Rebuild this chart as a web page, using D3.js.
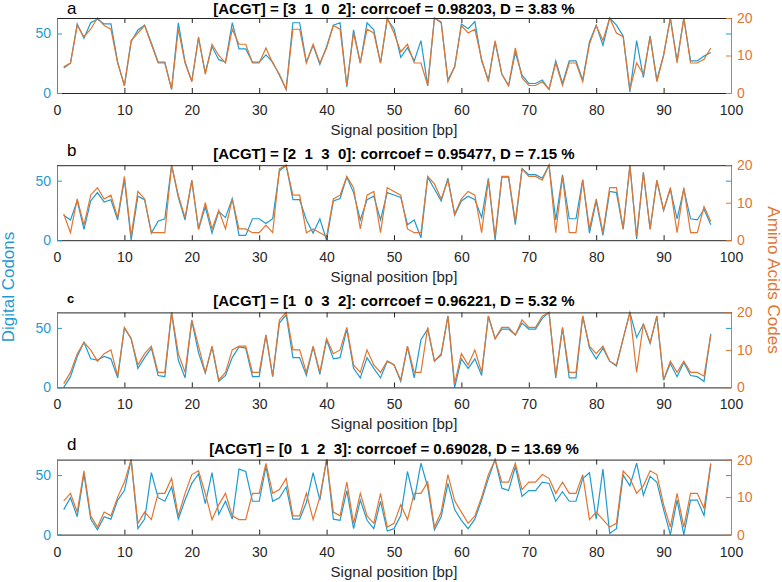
<!DOCTYPE html>
<html>
<head>
<meta charset="utf-8">
<script src="https://cdn.jsdelivr.net/npm/d3@7"></script>
<style>
  html, body { margin: 0; padding: 0; background: #ffffff; }
  svg { display: block; font-family: "Liberation Sans", Arial, Helvetica, sans-serif; }
</style>
</head>
<body>
<svg id="chart" width="782" height="582"></svg>
<script>
// ---------------- data ----------------
const positions = d3.range(1, 98); // signal positions 1..97 [bp]

const panelLetters = ["a", "b", "c", "d"];
const acgtMaps = ["[3  1  0  2]", "[2  1  3  0]", "[1  0  3  2]", "[0  1  2  3]"];
const corrcoefs = ["0.98203", "0.95477", "0.96221", "0.69028"];
const dValues = ["3.83", "7.15", "5.32", "13.69"];

const xTicks = [0, 10, 20, 30, 40, 50, 60, 70, 80, 90, 100];
const leftTicks = [0, 50];
const rightTicks = [0, 10, 20];

// Digital codons (left axis, 0..63)
const codonsA = [21,25,58,46,59,62,58,58,26,6, 43,53,57,42,26,26,3,59,26,10,
  46,17,39,28,26,59,37,37,26,26, 32,26,15,3,59,59,26,40,24,39,
  57,59,5,53,25,59,53,25,62,54, 30,38,27,44,6,63,59,11,22,58,
  54,60,27,11,43,16,6,34,15,8, 8,11,3,27,8,27,27,11,43,57,
  40,63,57,48,1,44,13,48,11,32, 63,27,63,27,27,31,34];
const codonsB = [21,17,33,9,33,40,32,34,17,51, 0,37,34,6,16,18,63,36,17,50,
  9,28,6,24,19,35,4,4,18,18, 14,18,58,63,34,34,17,6,18,0,
  33,35,53,40,17,34,37,17,40,38, 36,13,17,2,53,43,33,52,21,33,
  37,34,19,52,0,53,53,13,60,55, 55,52,63,17,55,18,18,51,6,33,
  4,41,40,9,63,1,57,9,50,25, 43,18,43,18,17,26,13];
const codonsC = [0,9,26,38,24,23,26,24,8,50, 41,16,25,33,10,9,63,23,8,56,
  29,12,34,5,10,25,34,33,9,9, 44,9,54,61,25,25,10,34,11,40,
  24,25,49,16,8,25,16,8,22,19, 5,34,8,40,49,22,27,60,0,24,
  16,24,10,60,41,49,49,44,54,49, 49,58,63,8,50,8,8,60,33,24,
  33,22,18,41,63,42,53,37,60,6, 20,9,21,10,9,5,45];
const codonsD = [21,31,15,51,13,4,15,13,29,37, 63,5,13,52,31,28,40,13,29,43,
  51,26,52,17,28,13,55,53,28,28, 57,28,31,40,13,13,27,52,29,63,
  13,12,37,5,29,12,5,28,3,5, 16,53,29,60,40,4,15,43,21,12,
  5,13,29,47,63,39,37,57,32,37, 37,44,43,28,36,28,28,47,52,13,
  55,1,5,50,41,60,33,49,44,21, 0,29,0,29,29,16,59];

// Amino acid codes (right axis, 0..20)
const aminoA = [7,8,18,15,17,20,18,17,8,2, 14,16,18,13,8,8,1,17,8,3,
  15,5,13,10,8,17,13,13,8,8, 12,8,5,1,17,17,8,13,8,12,
  18,17,2,16,8,17,16,8,20,16, 11,13,8,8,2,20,19,3,7,18,
  16,17,9,3,14,5,2,12,4,2, 2,3,1,8,2,8,8,3,13,18,
  14,20,16,15,1,8,5,15,3,10, 20,8,20,8,8,9,12];
const aminoB = [7,2,11,4,12,14,11,12,6,17, 1,13,11,2,2,2,20,12,6,16,
  3,10,3,8,3,11,3,3,2,2, 4,2,19,20,12,12,2,3,2,1,
  11,12,17,14,3,12,13,2,14,13, 12,3,2,2,17,15,11,16,7,11,
  13,12,2,16,1,17,17,5,19,17, 17,16,20,2,17,2,2,16,3,11,
  2,14,14,3,20,1,18,3,16,8, 14,2,14,2,2,9,5];
const aminoC = [1,4,9,12,10,7,9,10,3,16, 13,6,9,11,4,4,20,9,4,18,
  11,4,11,2,4,10,11,11,4,4, 14,3,18,20,10,10,4,11,4,13,
  9,10,16,6,4,10,6,4,7,6, 2,11,4,4,16,7,9,19,1,9,
  6,10,4,19,13,16,16,14,18,16, 16,19,20,3,16,4,4,19,11,9,
  11,7,6,13,20,4,17,12,19,2, 7,4,7,4,4,3,14];
const aminoD = [9,11,6,17,5,2,6,5,10,14, 20,3,6,4,11,11,15,5,11,16,
  17,11,4,8,11,5,4,4,11,11, 19,11,12,15,5,5,11,4,10,20,
  6,5,14,3,11,5,3,11,2,3, 8,4,11,11,14,2,6,16,9,6,
  3,5,10,16,20,14,14,19,12,14, 14,16,15,11,14,11,11,16,4,6,
  4,2,3,17,15,11,13,17,16,8, 2,11,2,11,11,7,19];

const codonSeries = [codonsA, codonsB, codonsC, codonsD];
const aminoSeries = [aminoA, aminoB, aminoC, aminoD];

// ---------------- drawing ----------------
const BLUE = "#1f9bcf";
const ORANGE = "#e07631";
const DARK = "#262626";

const svg = d3.select("#chart");
const x = d3.scaleLinear().domain([0, 100]).range([57, 731]);
const panelH = 75, firstTop = 18, step = 147.2;

panelLetters.forEach((letter, k) => {
  const top = firstTop + k * step;
  const bottom = top + panelH;
  const yL = d3.scaleLinear().domain([0, 63]).range([bottom, top]);
  const yR = d3.scaleLinear().domain([0, 20]).range([bottom, top]);
  const g = svg.append("g");

  // data lines: blue (left axis) first, orange (right axis) on top
  const lineL = d3.line().x((d, i) => x(positions[i])).y(d => yL(d));
  const lineR = d3.line().x((d, i) => x(positions[i])).y(d => yR(d));
  g.append("path").datum(codonSeries[k]).attr("d", lineL)
    .attr("fill", "none").attr("stroke", BLUE).attr("stroke-width", 1.2);
  g.append("path").datum(aminoSeries[k]).attr("d", lineR)
    .attr("fill", "none").attr("stroke", ORANGE).attr("stroke-width", 1.2);

  // bottom x axis
  const ax = g.append("g").attr("transform", `translate(0,${bottom})`)
    .call(d3.axisBottom(x).tickValues(xTicks).tickSizeInner(-5).tickSizeOuter(0).tickPadding(12));
  ax.select(".domain").attr("stroke", DARK);
  ax.selectAll(".tick line").attr("stroke", DARK);
  ax.selectAll(".tick text").attr("fill", DARK).attr("font-size", 14).attr("font-family", null);

  // top box line with ticks
  const at = g.append("g").attr("transform", `translate(0,${top})`)
    .call(d3.axisTop(x).tickValues(xTicks).tickSizeInner(-5).tickSizeOuter(0).tickFormat(""));
  at.select(".domain").attr("stroke", DARK);
  at.selectAll(".tick line").attr("stroke", DARK);

  // left axis
  const al = g.append("g").attr("transform", `translate(${x(0)},0)`)
    .call(d3.axisLeft(yL).tickValues(leftTicks).tickSizeInner(-5).tickSizeOuter(0).tickPadding(6));
  al.select(".domain").attr("stroke", BLUE);
  al.selectAll(".tick line").attr("stroke", BLUE);
  al.selectAll(".tick text").attr("fill", BLUE).attr("font-size", 14).attr("font-family", null);

  // right axis
  const ar = g.append("g").attr("transform", `translate(${x(100)},0)`)
    .call(d3.axisRight(yR).tickValues(rightTicks).tickSizeInner(-5).tickSizeOuter(0).tickPadding(6));
  ar.select(".domain").attr("stroke", ORANGE);
  ar.selectAll(".tick line").attr("stroke", ORANGE);
  ar.selectAll(".tick text").attr("fill", ORANGE).attr("font-size", 14).attr("font-family", null);

  // mirrored left-axis tick on the right side
  const am = g.append("g").attr("transform", `translate(${x(100)},0)`)
    .call(d3.axisRight(yL).tickValues([50]).tickSizeInner(-5).tickSizeOuter(0).tickFormat(""));
  am.select(".domain").remove();
  am.selectAll(".tick line").attr("stroke", BLUE);

  // title (first panel nudged so it stays inside the page)
  g.append("text")
    .attr("x", (x(0) + x(100)) / 2).attr("y", k === 0 ? 14 : top - 6)
    .attr("text-anchor", "middle").attr("font-size", 15).attr("font-weight", "bold")
    .attr("fill", "#000").style("white-space", "pre")
    .text(`[ACGT] = ${acgtMaps[k]}: corrcoef = ${corrcoefs[k]}, D = ${dValues[k]} %`);

  // panel letter
  g.append("text")
    .attr("x", 67).attr("y", k === 0 ? 14 : top - 9.5)
    .attr("font-size", letter === "c" ? 13 : 17)
    .attr("font-weight", letter === "c" ? "bold" : "normal")
    .attr("fill", "#000").text(letter);

  // x label
  g.append("text")
    .attr("x", (x(0) + x(100)) / 2).attr("y", bottom + 42)
    .attr("text-anchor", "middle").attr("font-size", 15).attr("fill", DARK)
    .text("Signal position [bp]");
});

// shared y labels
svg.append("text")
  .attr("transform", "translate(14,287) rotate(-90)")
  .attr("text-anchor", "middle").attr("font-size", 17).attr("fill", BLUE)
  .text("Digital Codons");
svg.append("text")
  .attr("transform", "translate(768,280) rotate(90)")
  .attr("text-anchor", "middle").attr("font-size", 17).attr("fill", ORANGE)
  .text("Amino Acids Codes");
</script>
</body>
</html>
